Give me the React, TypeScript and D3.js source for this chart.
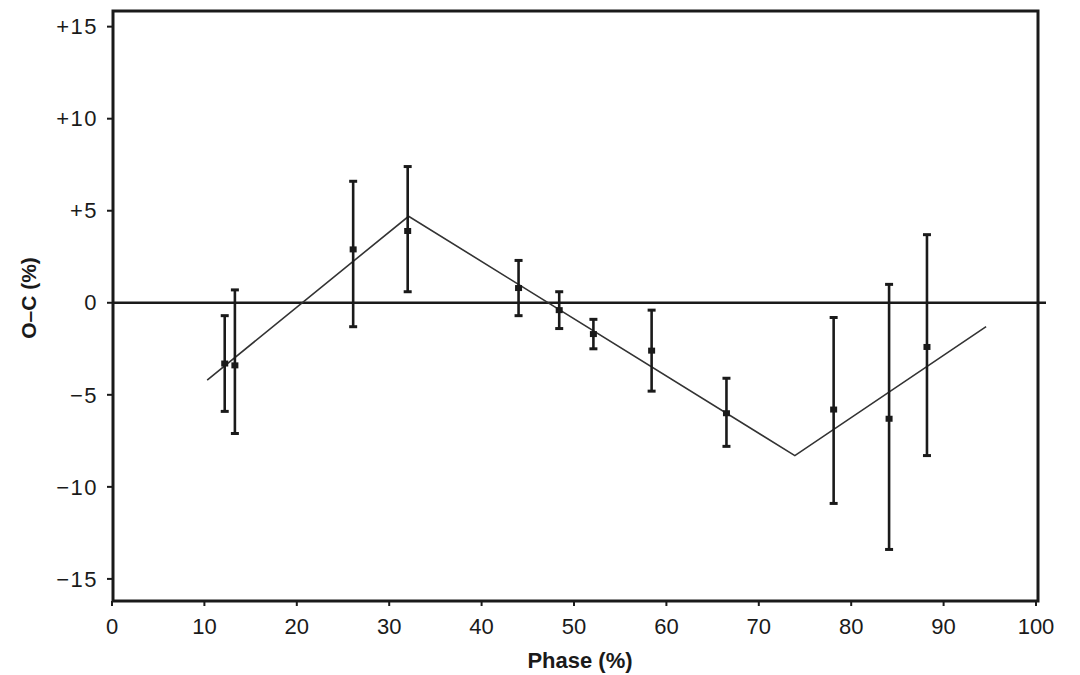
import React from 'react';
import * as d3 from 'd3';

const phase = [12.2, 13.3, 26.1, 32.0, 44.0, 48.4, 52.1, 58.4, 66.5, 78.1, 84.1, 88.2];
const oc = [-3.3, -3.4, 2.9, 3.9, 0.8, -0.4, -1.7, -2.6, -6.0, -5.8, -6.3, -2.4];
const errLow = [-5.9, -7.1, -1.3, 0.6, -0.7, -1.4, -2.5, -4.8, -7.8, -10.9, -13.4, -8.3];
const errHigh = [-0.7, 0.7, 6.6, 7.4, 2.3, 0.6, -0.9, -0.4, -4.1, -0.8, 1.0, 3.7];

// fitted broken line
const fitPhase = [10.3, 32.1, 73.9, 94.6];
const fitOC = [-4.2, 4.7, -8.3, -1.3];

const xTicks = [0, 10, 20, 30, 40, 50, 60, 70, 80, 90, 100];
const yTicks = [15, 10, 5, 0, -5, -10, -15];
const yTickLabels = ['+15', '+10', '+5', '0', '\u22125', '\u221210', '\u221215'];

const width = 1080;
const height = 675;
const font = '"Liberation Sans", "DejaVu Sans", sans-serif';
const ink = '#1a1a1a';

const App = () => {
  const x = d3.scaleLinear().domain([0, 100]).range([112, 1036]);
  const y = d3.scaleLinear().domain([-16.2, 15.85]).range([601, 11]);

  const left = x(0) + 1;
  const right = x(100) + 2;
  const top = y(15.85);
  const bottom = y(-16.2);

  const fitLine = d3.line<number>()
    .x((d) => x(d))
    .y((_, i) => y(fitOC[i]));

  return (
    <svg
      width={width}
      height={height}
      style={{ position: 'absolute', left: 0, top: 0, background: '#fff' }}
    >
      <rect width={width} height={height} fill="#fff" />

      {/* frame */}
      <rect x={left} y={top} width={right - left} height={bottom - top}
        fill="none" stroke={ink} strokeWidth={3} />

      {/* zero line */}
      <line x1={left} x2={right + 8} y1={y(0)} y2={y(0)} stroke={ink} strokeWidth={2.5} />

      {/* y ticks */}
      {yTicks.map((t, i) => (
        <g key={'y' + t}>
          <line x1={left - 6} x2={left} y1={y(t)} y2={y(t)} stroke={ink} strokeWidth={2} />
          <text x={98} y={y(t)} dy="0.35em" textAnchor="end" fontFamily={font}
            fontSize={22} fill={ink} letterSpacing={1.5}>
            {yTickLabels[i]}
          </text>
        </g>
      ))}

      {/* x ticks */}
      {xTicks.map((t) => (
        <g key={'x' + t}>
          <line x1={x(t)} x2={x(t)} y1={bottom} y2={bottom + 5} stroke={ink} strokeWidth={2} />
          <text x={x(t)} y={634} textAnchor="middle" fontFamily={font}
            fontSize={22} fill={ink}>
            {t}
          </text>
        </g>
      ))}

      {/* fitted line */}
      <path d={fitLine(fitPhase) || ''} fill="none" stroke="#333" strokeWidth={1.6} />

      {/* error bars */}
      {phase.map((p, i) => (
        <g key={'e' + i}>
          <line x1={x(p)} x2={x(p)} y1={y(errLow[i])} y2={y(errHigh[i])}
            stroke={ink} strokeWidth={2.6} />
          <line x1={x(p) - 4} x2={x(p) + 4} y1={y(errLow[i])} y2={y(errLow[i])}
            stroke={ink} strokeWidth={3} />
          <line x1={x(p) - 4} x2={x(p) + 4} y1={y(errHigh[i])} y2={y(errHigh[i])}
            stroke={ink} strokeWidth={3} />
          <rect x={x(p) - 3.5} y={y(oc[i]) - 3} width={7} height={6} fill={ink} />
        </g>
      ))}

      {/* axis titles */}
      <text x={580} y={668} textAnchor="middle" fontFamily={font} fontSize={22}
        fontWeight={600} fill={ink}>
        Phase (%)
      </text>
      <text transform={`translate(36, 298) rotate(-90)`} textAnchor="middle"
        fontFamily={font} fontSize={21} fontWeight={600} fill={ink}>
        O–C (%)
      </text>
    </svg>
  );
};

export default App;
